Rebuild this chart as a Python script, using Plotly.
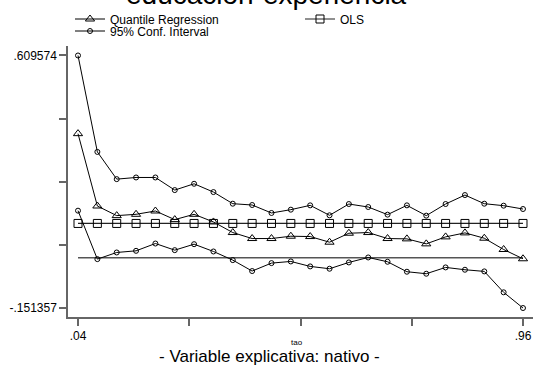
import plotly.graph_objects as go

tau = [0.04, 0.08, 0.12, 0.16, 0.20, 0.24, 0.28, 0.32, 0.36, 0.40, 0.44, 0.48,
       0.52, 0.56, 0.60, 0.64, 0.68, 0.72, 0.76, 0.80, 0.84, 0.88, 0.92, 0.96]

qreg = [0.374, 0.156, 0.127, 0.131, 0.141, 0.115, 0.131, 0.108, 0.076, 0.058, 0.058, 0.065,
        0.064, 0.047, 0.074, 0.076, 0.058, 0.057, 0.042, 0.063, 0.075, 0.059, 0.025, -0.003]

ci_upper = [0.609574, 0.319, 0.237, 0.242, 0.242, 0.204, 0.223, 0.198, 0.163, 0.159, 0.135, 0.145,
            0.158, 0.128, 0.162, 0.153, 0.130, 0.158, 0.127, 0.162, 0.189, 0.163, 0.157, 0.147]

ci_lower = [0.142, -0.004, 0.016, 0.021, 0.043, 0.023, 0.041, 0.019, -0.007, -0.040, -0.016, -0.011,
            -0.026, -0.033, -0.014, 0.001, -0.012, -0.042, -0.048, -0.029, -0.036, -0.041, -0.104, -0.151357]

ols_value = 0.1035
zero_value = 0.0

x_tickvals = [0.04, 0.27, 0.50, 0.73, 0.96]
x_ticktext = [".04", "", "", "", ".96"]
y_tickvals = [-0.151357, 0.038876, 0.229109, 0.419341, 0.609574]
y_ticktext = ["-.151357", "", "", "", ".609574"]

FONT = "Liberation Sans, Arial, sans-serif"

fig = go.Figure()

# zero reference line
fig.add_trace(go.Scatter(x=tau, y=[zero_value] * len(tau), mode="lines",
                         line=dict(color="#555555", width=1.4), showlegend=False,
                         hoverinfo="skip"))

fig.add_trace(go.Scatter(x=tau, y=qreg, mode="lines+markers", name="Quantile Regression",
                         line=dict(color="black", width=1),
                         marker=dict(symbol="triangle-up-open", size=8, color="black",
                                     line=dict(width=1, color="black")),
                         legend="legend"))

fig.add_trace(go.Scatter(x=tau, y=[ols_value] * len(tau), mode="lines+markers", name="OLS",
                         line=dict(color="#222222", width=1.2),
                         marker=dict(symbol="square-open", size=8, color="black",
                                     line=dict(width=1, color="black")),
                         legend="legend2"))

fig.add_trace(go.Scatter(x=tau, y=ci_upper, mode="lines+markers", name="95% Conf. Interval",
                         line=dict(color="black", width=1),
                         marker=dict(symbol="circle-open", size=5, color="black",
                                     line=dict(width=1, color="black")),
                         legend="legend3"))

fig.add_trace(go.Scatter(x=tau, y=ci_lower, mode="lines+markers", name="95% Conf. Interval",
                         line=dict(color="black", width=1),
                         marker=dict(symbol="circle-open", size=5, color="black",
                                     line=dict(width=1, color="black")),
                         showlegend=False, legend="legend3"))

W, H = 533, 367

def leg(xpx, ypx):
    return dict(xref="container", yref="container", x=xpx / W, y=1 - ypx / H,
                xanchor="left", yanchor="middle", orientation="h",
                font=dict(family=FONT, size=12, color="black"),
                bgcolor="rgba(0,0,0,0)", borderwidth=0, itemwidth=30)

fig.update_layout(
    width=W, height=H,
    margin=dict(l=68, r=0, t=45, b=50),
    paper_bgcolor="white", plot_bgcolor="white",
    font=dict(family=FONT, size=12, color="black"),
    legend=leg(70, 19),
    legend2=leg(300, 19),
    legend3=leg(70, 31),
    xaxis=dict(range=[0.0193, 0.9807], tickvals=x_tickvals, ticktext=x_ticktext,
               showline=True, linecolor="#666666", linewidth=1.5,
               ticks="outside", ticklen=7, tickwidth=1.5, tickcolor="#666666",
               showgrid=False, zeroline=False,
               tickfont=dict(family=FONT, size=12, color="black")),
    yaxis=dict(range=[-0.1784, 0.6396], tickvals=y_tickvals, ticktext=y_ticktext,
               showline=True, linecolor="#666666", linewidth=1.5,
               ticks="outside", ticklen=7, tickwidth=1.5, tickcolor="#666666",
               showgrid=False, zeroline=False,
               tickfont=dict(family=FONT, size=12, color="black")),
    annotations=[
        dict(text="educación-experiencia", xref="paper", yref="paper", x=(266.5 - 68) / 465,
             y=1 + (45 - 6) / 272.3, xanchor="center", yanchor="bottom", showarrow=False,
             font=dict(family=FONT, size=28, color="black"), yshift=-5),
        dict(text="tao", xref="paper", yref="paper", x=(297 - 68) / 465,
             y=-(343 - 317.3) / 272.3, xanchor="center", yanchor="middle", showarrow=False,
             font=dict(family=FONT, size=8, color="black")),
        dict(text="- Variable explicativa: nativo -", xref="paper", yref="paper",
             x=(269 - 68) / 465, y=-(357 - 317.3) / 272.3, xanchor="center", yanchor="middle",
             showarrow=False, font=dict(family=FONT, size=17, color="black")),
    ],
)

fig.write_html("out.html")
